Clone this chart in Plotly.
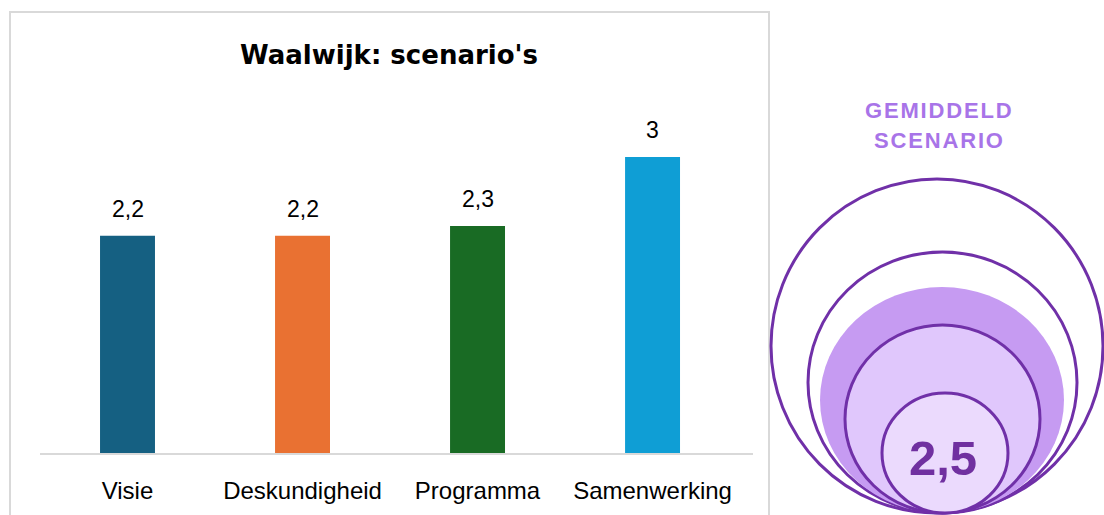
import plotly.graph_objects as go

categories = ["Visie", "Deskundigheid", "Programma", "Samenwerking"]
scores = [2.2, 2.2, 2.3, 3.0]
bar_colors = ["#156082", "#E97132", "#196B24", "#0F9ED5"]
average_score = 2.5
title_text = "Waalwijk: scenario's"
badge_lines = ["GEMIDDELD", "SCENARIO"]

W, H = 1104, 515


def px(x):
    return x / W


def py(y):
    return 1 - y / H


def fmt(v):
    return f"{v:g}".replace(".", ",")


def spaced(s):
    # widen the tracking a little with hair spaces
    return "\u200a".join(s)


fig = go.Figure()

fig.add_trace(go.Bar(
    x=categories, y=scores,
    marker=dict(color=bar_colors, line=dict(width=0)),
    width=0.314,
    hoverinfo="skip",
    showlegend=False,
))

# value labels above bars
for c, v in zip(categories, scores):
    fig.add_annotation(
        x=c, y=v, xref="x", yref="y", text=fmt(v), showarrow=False,
        yanchor="bottom", yshift=12,
        font=dict(family="Liberation Sans, Arial", size=23, color="#000000"),
    )

shapes = [
    # chart border
    dict(type="rect", xref="paper", yref="paper",
         x0=px(10), x1=px(769), y0=py(530), y1=py(12),
         line=dict(color="#D9D9D9", width=2), fillcolor="rgba(0,0,0,0)", layer="below"),
]

# nested circles (decorative badge)
rings = [
    # left, top, right, bottom, fill, line width
    (771, 179, 1103, 513, "#FFFFFF", 3),
    (808, 252, 1077, 513, "#FFFFFF", 3),
    (820, 287, 1064, 513, "#C69BF2", 0),
    (845, 325, 1040, 513, "#E0C7FC", 3),
    (882, 393, 1008, 513, "#EBDAFD", 3),
]
for l, t, r, b, fill, lw in rings:
    shapes.append(dict(
        type="circle", xref="paper", yref="paper",
        x0=px(l), x1=px(r), y0=py(b), y1=py(t),
        fillcolor=fill,
        line=dict(color="#7030A8", width=lw) if lw else dict(width=0),
    ))

for line_text, yy in zip(badge_lines, [110, 141]):
    fig.add_annotation(
        x=px(939), y=py(yy), xref="paper", yref="paper", text=spaced(line_text),
        showarrow=False, xanchor="center", yanchor="middle",
        font=dict(family="Liberation Sans, Arial", size=22, color="#A874E8", weight="bold"),
    )
fig.add_annotation(
    x=px(943), y=py(458), xref="paper", yref="paper", text=fmt(average_score),
    showarrow=False, xanchor="center", yanchor="middle",
    font=dict(family="Liberation Sans, Arial", size=49, color="#7030A0", weight="bold"),
)

fig.update_layout(
    width=W, height=H,
    margin=dict(l=0, r=0, t=0, b=0),
    paper_bgcolor="white", plot_bgcolor="white",
    shapes=shapes,
    title=dict(
        text=f"<b>{title_text}</b>", x=px(389), xanchor="center",
        y=py(55), yanchor="middle",
        font=dict(family="DejaVu Sans", size=26, color="#000000"),
    ),
    xaxis=dict(
        domain=[px(40), px(753)],
        range=[-0.5, 3.574],
        showline=True, linecolor="#D9D9D9", linewidth=2,
        showgrid=False, ticks="", zeroline=False,
        ticklabelstandoff=15,
        tickfont=dict(family="Liberation Sans, Arial", size=24, color="#000000"),
    ),
    yaxis=dict(
        domain=[py(453), py(453 - 3.2 * 98.7)],
        range=[0, 3.2], visible=False, showgrid=False,
    ),
)

fig.write_html("out.html", config={"displayModeBar": False},
               post_script="document.body.style.margin='0';")
